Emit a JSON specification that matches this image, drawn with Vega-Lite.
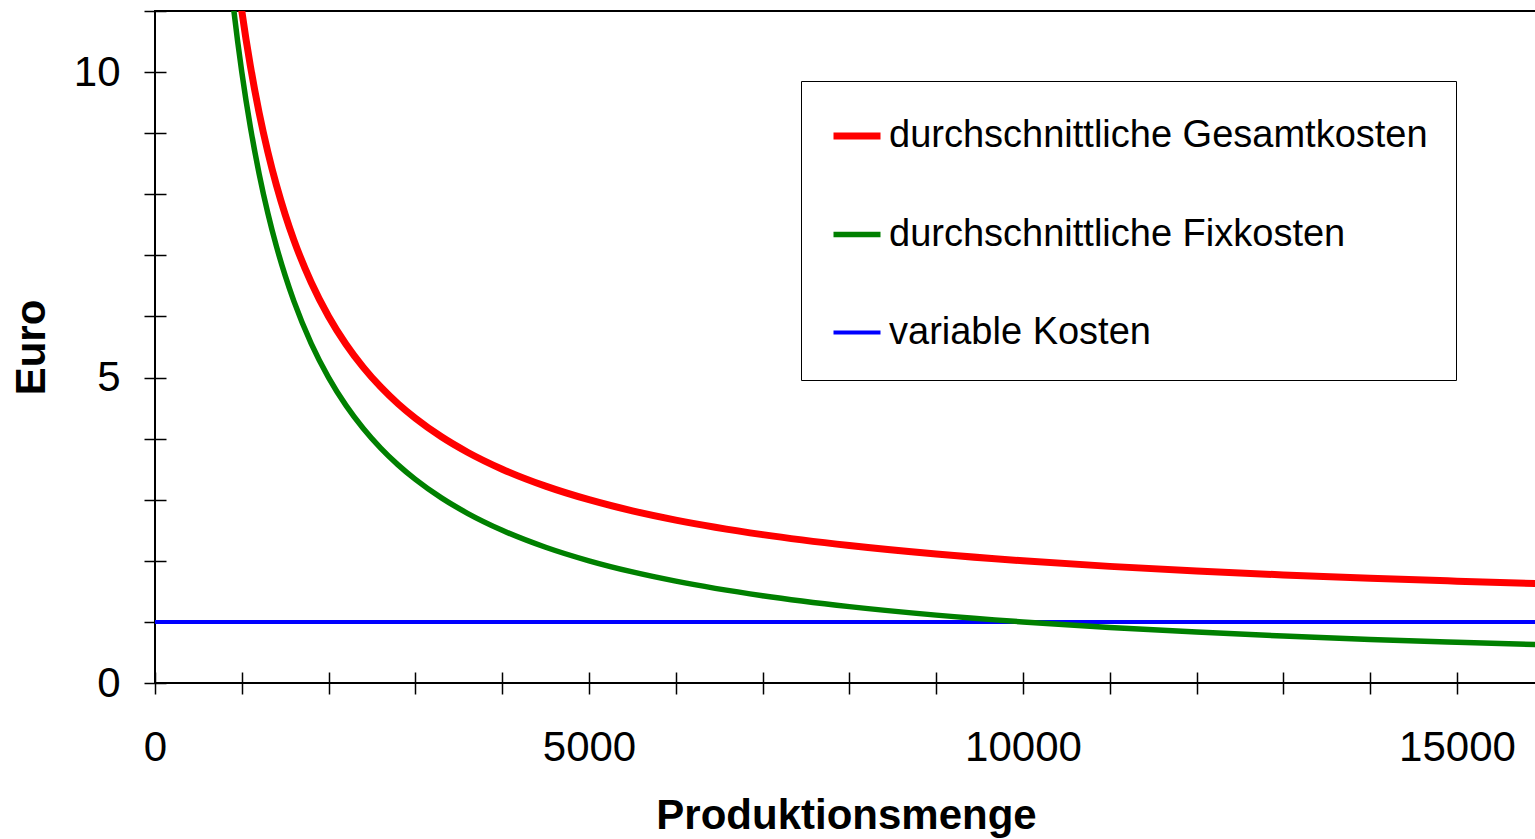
{
  "$schema": "https://vega.github.io/schema/vega-lite/v6.json",
  "autosize": "none",
  "padding": {"left": 155, "top": 11, "right": 0, "bottom": 156},
  "width": 1382,
  "height": 672,
  "background": "white",
  "config": {
    "font": "Liberation Sans",
    "view": {"stroke": "black", "strokeWidth": 2},
    "axis": {
      "domain": false,
      "grid": false,
      "offset": -11,
      "tickSize": 22,
      "tickColor": "black",
      "tickWidth": 1.5,
      "labelFont": "Liberation Sans",
      "labelFontSize": 42,
      "labelColor": "black",
      "labelOverlap": false,
      "labelFlush": false,
      "titleFont": "Liberation Sans",
      "titleFontSize": 42,
      "titleFontWeight": "bold",
      "titleColor": "black"
    }
  },
  "data": {
    "values": [
      {"x": 0, "variable Kosten": 1},
      {"x": 800, "durchschnittliche Gesamtkosten": 13.5, "durchschnittliche Fixkosten": 12.5},
      {"x": 900, "durchschnittliche Gesamtkosten": 12.111, "durchschnittliche Fixkosten": 11.111},
      {"x": 1000, "durchschnittliche Gesamtkosten": 11, "durchschnittliche Fixkosten": 10},
      {"x": 1100, "durchschnittliche Gesamtkosten": 10.091, "durchschnittliche Fixkosten": 9.091},
      {"x": 1200, "durchschnittliche Gesamtkosten": 9.333, "durchschnittliche Fixkosten": 8.333},
      {"x": 1300, "durchschnittliche Gesamtkosten": 8.692, "durchschnittliche Fixkosten": 7.692},
      {"x": 1400, "durchschnittliche Gesamtkosten": 8.143, "durchschnittliche Fixkosten": 7.143},
      {"x": 1500, "durchschnittliche Gesamtkosten": 7.667, "durchschnittliche Fixkosten": 6.667},
      {"x": 1600, "durchschnittliche Gesamtkosten": 7.25, "durchschnittliche Fixkosten": 6.25},
      {"x": 1800, "durchschnittliche Gesamtkosten": 6.556, "durchschnittliche Fixkosten": 5.556},
      {"x": 2000, "durchschnittliche Gesamtkosten": 6, "durchschnittliche Fixkosten": 5},
      {"x": 2200, "durchschnittliche Gesamtkosten": 5.545, "durchschnittliche Fixkosten": 4.545},
      {"x": 2400, "durchschnittliche Gesamtkosten": 5.167, "durchschnittliche Fixkosten": 4.167},
      {"x": 2600, "durchschnittliche Gesamtkosten": 4.846, "durchschnittliche Fixkosten": 3.846},
      {"x": 2800, "durchschnittliche Gesamtkosten": 4.571, "durchschnittliche Fixkosten": 3.571},
      {"x": 3000, "durchschnittliche Gesamtkosten": 4.333, "durchschnittliche Fixkosten": 3.333},
      {"x": 3300, "durchschnittliche Gesamtkosten": 4.03, "durchschnittliche Fixkosten": 3.03},
      {"x": 3600, "durchschnittliche Gesamtkosten": 3.778, "durchschnittliche Fixkosten": 2.778},
      {"x": 4000, "durchschnittliche Gesamtkosten": 3.5, "durchschnittliche Fixkosten": 2.5},
      {"x": 4500, "durchschnittliche Gesamtkosten": 3.222, "durchschnittliche Fixkosten": 2.222},
      {"x": 5000, "durchschnittliche Gesamtkosten": 3, "durchschnittliche Fixkosten": 2},
      {"x": 5500, "durchschnittliche Gesamtkosten": 2.818, "durchschnittliche Fixkosten": 1.818},
      {"x": 6000, "durchschnittliche Gesamtkosten": 2.667, "durchschnittliche Fixkosten": 1.667},
      {"x": 7000, "durchschnittliche Gesamtkosten": 2.429, "durchschnittliche Fixkosten": 1.429},
      {"x": 8000, "durchschnittliche Gesamtkosten": 2.25, "durchschnittliche Fixkosten": 1.25},
      {"x": 9000, "durchschnittliche Gesamtkosten": 2.111, "durchschnittliche Fixkosten": 1.111},
      {"x": 10000, "durchschnittliche Gesamtkosten": 2, "durchschnittliche Fixkosten": 1},
      {"x": 11000, "durchschnittliche Gesamtkosten": 1.909, "durchschnittliche Fixkosten": 0.909},
      {"x": 12000, "durchschnittliche Gesamtkosten": 1.833, "durchschnittliche Fixkosten": 0.833},
      {"x": 13000, "durchschnittliche Gesamtkosten": 1.769, "durchschnittliche Fixkosten": 0.769},
      {"x": 14000, "durchschnittliche Gesamtkosten": 1.714, "durchschnittliche Fixkosten": 0.714},
      {"x": 15000, "durchschnittliche Gesamtkosten": 1.667, "durchschnittliche Fixkosten": 0.667},
      {"x": 16000, "durchschnittliche Gesamtkosten": 1.625, "durchschnittliche Fixkosten": 0.625, "variable Kosten": 1}
    ]
  },
  "transform": [
    {"fold": ["durchschnittliche Gesamtkosten", "durchschnittliche Fixkosten", "variable Kosten"], "as": ["series", "y"]},
    {"filter": "isValid(datum.y)"}
  ],
  "mark": {"type": "line", "clip": true, "interpolate": "monotone"},
  "encoding": {
    "x": {
      "field": "x",
      "type": "quantitative",
      "title": "Produktionsmenge",
      "scale": {"domain": [0, 15922], "nice": false, "zero": false},
      "axis": {
        "values": [0, 1000, 2000, 3000, 4000, 5000, 6000, 7000, 8000, 9000, 10000, 11000, 12000, 13000, 14000, 15000],
        "labelExpr": "datum.value % 5000 === 0 ? format(datum.value, 'd') : ''",
        "labelPadding": 33,
        "titlePadding": 27
      }
    },
    "y": {
      "field": "y",
      "type": "quantitative",
      "title": "Euro",
      "scale": {"domain": [0, 11], "nice": false},
      "axis": {
        "values": [0, 1, 2, 3, 4, 5, 6, 7, 8, 9, 10, 11],
        "labelExpr": "datum.value % 5 === 0 ? format(datum.value, 'd') : ''",
        "labelPadding": 24,
        "titlePadding": 20
      }
    },
    "color": {
      "field": "series",
      "type": "ordinal",
      "title": null,
      "scale": {
        "domain": ["durchschnittliche Gesamtkosten", "durchschnittliche Fixkosten", "variable Kosten"],
        "range": ["#ff0000", "#008000", "#0000ff"]
      },
      "legend": {
        "orient": "none",
        "legendX": 646,
        "legendY": 70,
        "strokeColor": "black",
        "fillColor": "white",
        "padding": 28,
        "symbolType": "stroke",
        "symbolSize": 2209,
        "symbolOffset": 1,
        "labelOffset": 5,
        "labelFont": "Liberation Sans",
        "labelFontSize": 38,
        "labelColor": "black",
        "labelLimit": 800,
        "rowPadding": 53,
        "encode": {
          "symbols": {
            "update": {
              "strokeWidth": {"signal": "datum.value === 'durchschnittliche Gesamtkosten' ? 7 : 4"}
            }
          }
        }
      }
    },
    "strokeWidth": {
      "field": "series",
      "type": "ordinal",
      "legend": null,
      "scale": {
        "domain": ["durchschnittliche Gesamtkosten", "durchschnittliche Fixkosten", "variable Kosten"],
        "range": [7, 4, 4]
      }
    }
  }
}
